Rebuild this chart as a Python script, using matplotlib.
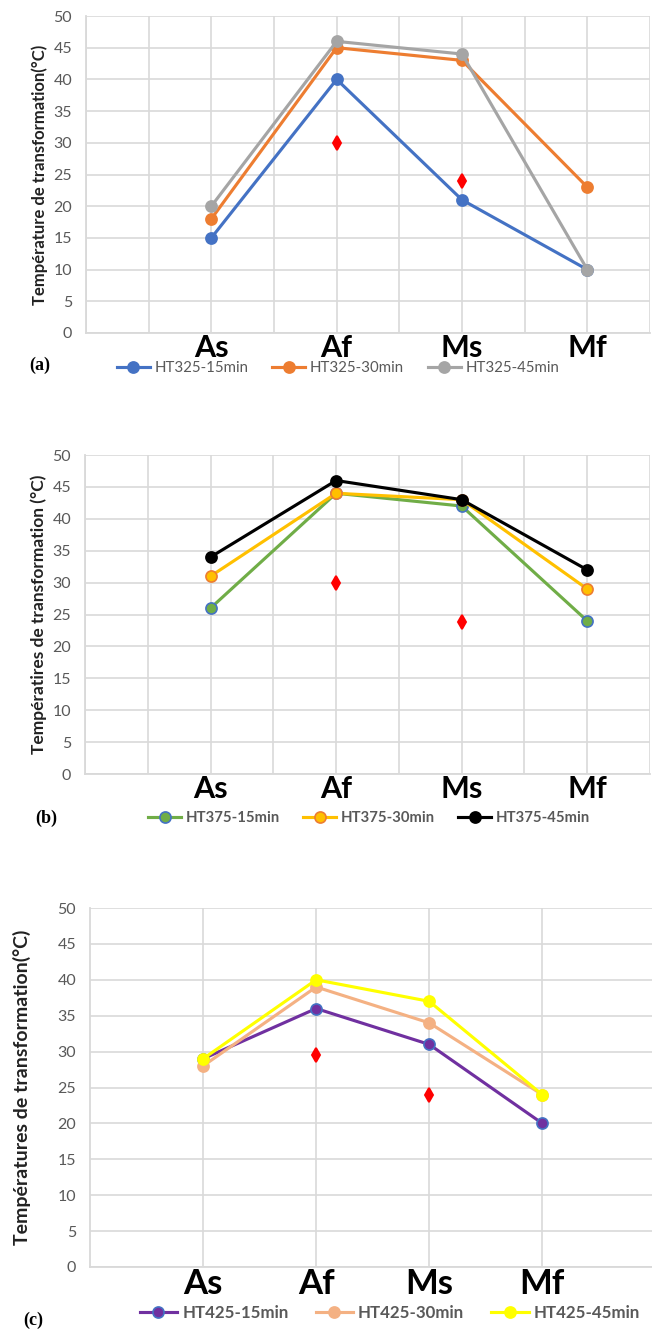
import matplotlib.pyplot as plt
from matplotlib.ticker import MultipleLocator

categories = ["As", "Af", "Ms", "Mf"]

# panel (a)
labels_a = ["HT325-15min", "HT325-30min", "HT325-45min"]
ht325_15 = [15, 40, 21, 10]
ht325_30 = [18, 45, 43, 23]
ht325_45 = [20, 46, 44, 10]
ref_a = [30, 24]

# panel (b)
labels_b = ["HT375-15min", "HT375-30min", "HT375-45min"]
ht375_15 = [26, 44, 42, 24]
ht375_30 = [31, 44, 43, 29]
ht375_45 = [34, 46, 43, 32]
ref_b = [30, 23.8]

# panel (c)
labels_c = ["HT425-15min", "HT425-30min", "HT425-45min"]
ht425_15 = [29, 36, 31, 20]
ht425_30 = [28, 39, 34, 24]
ht425_45 = [29, 40, 37, 24]
ref_c = [29.5, 24]

ref_cats = ["Af", "Ms"]

GRID = "#D9D9D9"
TICK = "#595959"
FONT = ["Lato", "DejaVu Sans"]


def draw_panel(fig, rect, xlim, half_grid, series, styles, ref, ylabel,
               ylabel_size, ylabel_pad, cat_size, leg_pos, leg_size,
               leg_weight, tag, tag_pos):
    ax = fig.add_axes(rect)
    x = list(range(len(categories)))
    handles = []
    for values, (color, edge) in zip(series, styles):
        (h,) = ax.plot(x, values, color=color, linewidth=2.25, marker="o",
                       markersize=8, markerfacecolor=color,
                       markeredgecolor=edge, markeredgewidth=1.2, zorder=3)
        handles.append(h)
    rx = [categories.index(c) for c in ref_cats]
    ax.plot(rx, ref, linestyle="none", marker="d", markersize=7.5,
            markeredgewidth=1.4, color="red", zorder=4)

    ax.set_xlim(*xlim)
    ax.set_ylim(0, 50)
    ax.set_xticks(x)
    ax.set_xticklabels(categories, family=FONT, fontsize=cat_size,
                       fontweight="bold", color="black")
    if half_grid:
        ax.xaxis.set_minor_locator(MultipleLocator(0.5))
    ax.yaxis.set_major_locator(MultipleLocator(5))
    ax.tick_params(axis="both", which="both", length=0)
    ax.tick_params(axis="y", labelsize=11.5, labelcolor=TICK, pad=10)
    ax.tick_params(axis="x", pad=1)
    for lab in ax.get_yticklabels():
        lab.set_family(FONT)
    ax.grid(True, which="both", color=GRID, linewidth=1.2)
    ax.set_axisbelow(True)
    for side in ("top", "right"):
        ax.spines[side].set_visible(False)
    for side in ("left", "bottom"):
        ax.spines[side].set_color(GRID)
        ax.spines[side].set_linewidth(1.3)

    ax.set_ylabel(ylabel, family=FONT, fontsize=ylabel_size, fontweight="bold",
                  color="#222222", labelpad=ylabel_pad)

    ax.legend(handles, leg_pos[2], loc="center",
              bbox_to_anchor=(leg_pos[0], leg_pos[1]),
              bbox_transform=fig.transFigure, ncol=3, frameon=False,
              handlelength=2.2, handletextpad=0.3, columnspacing=1.6,
              prop={"family": FONT, "size": leg_size, "weight": leg_weight},
              labelcolor=TICK)
    fig.text(tag_pos[0], tag_pos[1], tag, family="Liberation Serif",
             fontsize=13, fontweight="bold", ha="center", va="center")
    return ax


def main():
    W, H = 652, 1331
    fig = plt.figure(figsize=(W / 100, H / 100), dpi=100)

    def rect(left, right, top, bottom):
        return [left / W, 1 - bottom / H, (right - left) / W, (bottom - top) / H]

    draw_panel(
        fig, rect(86, 650, 16, 333), (-1, 3.5), True,
        [ht325_15, ht325_30, ht325_45],
        [("#4472C4", "#4472C4"), ("#ED7D31", "#ED7D31"), ("#A5A5A5", "#A5A5A5")],
        ref_a, "Température de transformation(°C)", 12, 4, 22,
        (338 / W, 1 - 368 / H, labels_a), 10.8, "normal",
        "(a)", (40 / W, 1 - 365 / H))

    draw_panel(
        fig, rect(85, 650, 455, 774), (-1, 3.5), True,
        [ht375_15, ht375_30, ht375_45],
        [("#70AD47", "#4472C4"), ("#FFC000", "#ED7D31"), ("#000000", "#000000")],
        ref_b, "Températires de transformation (°C)", 12.5, 4, 22,
        (369 / W, 1 - 818 / H, labels_b), 10.7, "bold",
        "(b)", (46 / W, 1 - 818 / H))

    draw_panel(
        fig, rect(90, 652, 908, 1267), (-1, 3.97), False,
        [ht425_15, ht425_30, ht425_45],
        [("#7030A0", "#4472C4"), ("#F4B183", "#F4B183"), ("#FFFF00", "#FFFF00")],
        ref_c, "Températures de transformation(°C)", 14, 19, 25,
        (390 / W, 1 - 1313 / H, labels_c), 12.2, "bold",
        "(c)", (33 / W, 1 - 1320 / H))

    fig.savefig("out.png", dpi=100, facecolor="white")


if __name__ == "__main__":
    main()
